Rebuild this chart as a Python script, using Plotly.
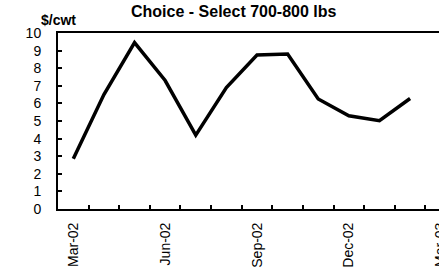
import plotly.graph_objects as go

months = ["Mar-02", "Apr-02", "May-02", "Jun-02", "Jul-02", "Aug-02", "Sep-02",
          "Oct-02", "Nov-02", "Dec-02", "Jan-03", "Feb-03", "Mar-03"]
values = [2.85, 6.5, 9.45, 7.3, 4.2, 6.9, 8.75, 8.8, 6.25, 5.3, 5.02, 6.28, None]
tick_labels = ["Mar-02", "", "", "Jun-02", "", "", "Sep-02", "", "", "Dec-02", "", "", "Mar-03"]
y_ticks = list(range(0, 11))

FONT = "Liberation Sans, Arial, sans-serif"
W, H = 456, 268
ML, MR, MT, MB = 58, 0, 33, 59
pw = W - ML - MR
ph = H - MT - MB


def px_to_paper(x, y):
    return (x - ML) / pw, 1 + (MT - y) / ph


fig = go.Figure()
fig.add_trace(go.Scatter(x=months, y=values, mode="lines",
                         line=dict(color="black", width=3.5), connectgaps=False,
                         hoverinfo="skip"))

tx, ty = px_to_paper(234, 11)
ux, uy = px_to_paper(58, 20)

fig.update_layout(
    width=W, height=H,
    margin=dict(l=ML, r=MR, t=MT, b=MB, autoexpand=False),
    paper_bgcolor="white", plot_bgcolor="white",
    showlegend=False,
    font=dict(family=FONT, color="black", size=14),
    annotations=[
        dict(text="<b>Choice - Select 700-800 lbs</b>", x=tx, y=ty, xref="paper", yref="paper",
             xanchor="center", yanchor="middle",
             showarrow=False, font=dict(size=16, family=FONT)),
        dict(text="<b>$/cwt</b>", x=ux, y=uy, xref="paper", yref="paper",
             xanchor="center", yanchor="middle",
             showarrow=False, font=dict(size=14, family=FONT)),
    ],
)

fig.update_xaxes(
    type="category", categoryorder="array", categoryarray=months,
    range=[-0.5, 12.5], automargin=False,
    tickmode="array", tickvals=months, ticktext=tick_labels,
    tickson="boundaries", ticks="inside", ticklen=4, tickwidth=1.5, tickcolor="black",
    tickangle=-90, tickfont=dict(size=14),
    showline=True, linecolor="black", linewidth=2, mirror=True,
    showgrid=False, zeroline=False, ticklabelstandoff=6,
)
fig.update_yaxes(
    range=[0, 10], tickmode="array", tickvals=y_ticks, automargin=False,
    ticks="inside", ticklen=4, tickwidth=1.5, tickcolor="black",
    tickfont=dict(size=14),
    showline=True, linecolor="black", linewidth=2, mirror=False,
    showgrid=False, zeroline=False, ticklabelstandoff=12,
)

fig.write_html("out.html", config={"displayModeBar": False},
               post_script="document.documentElement.style.overflow='hidden';document.body.style.overflow='hidden';document.body.style.margin='0';")
